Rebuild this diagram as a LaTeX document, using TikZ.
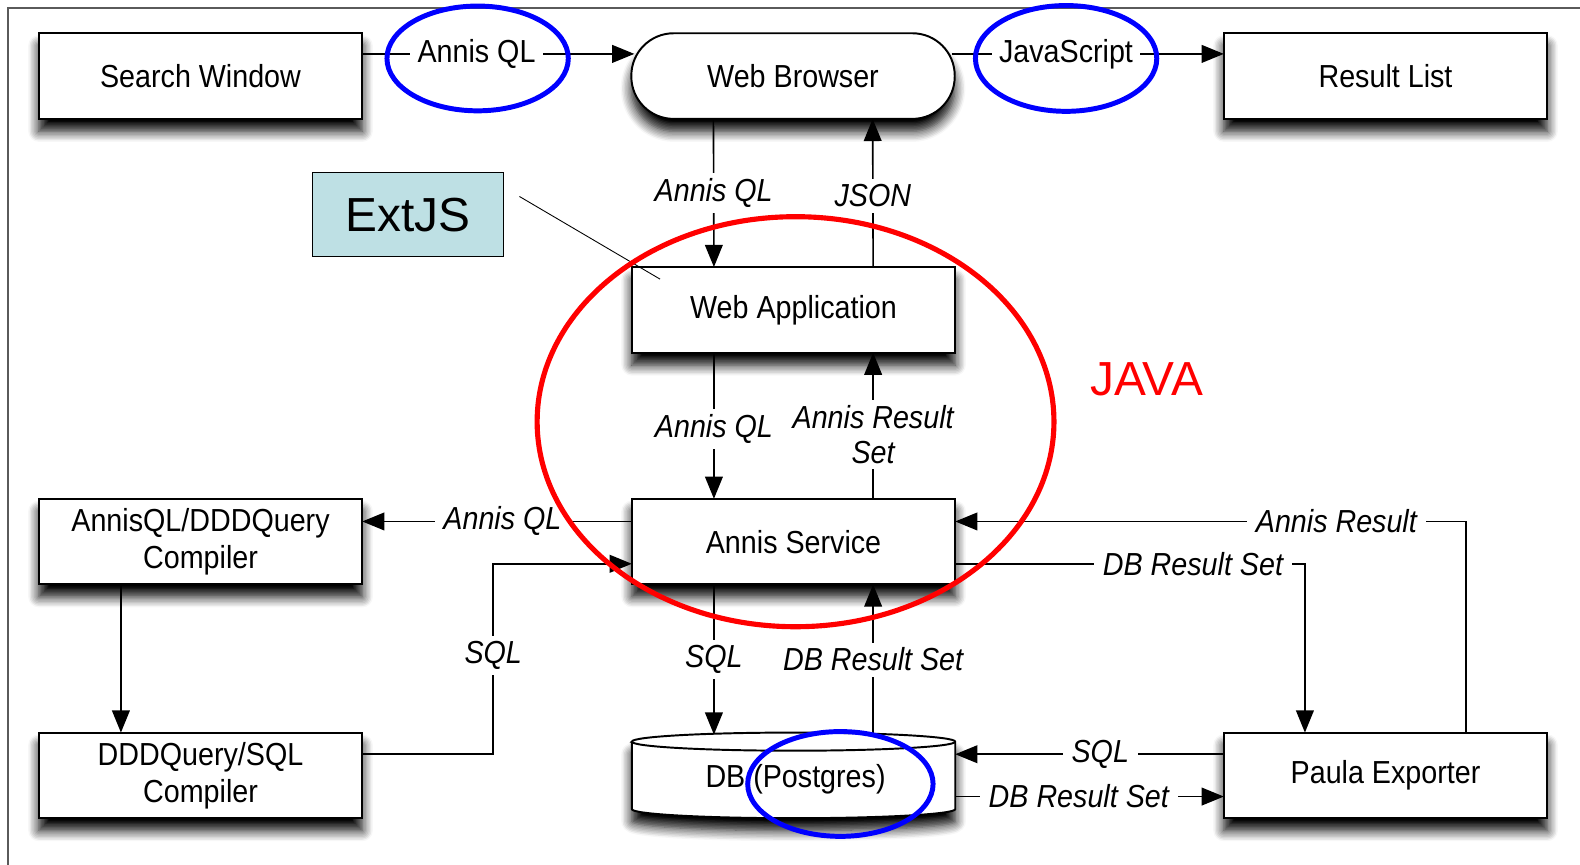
\documentclass[tikz,border=0pt]{standalone}
\usepackage{fontspec}
\setmainfont{Liberation Sans}
\newfontfamily\diafont{Liberation Sans}[FakeStretch=0.9]
\usetikzlibrary{arrows.meta,calc,shadows.blur}
\definecolor{extfill}{RGB}{190,224,228}
\definecolor{framegray}{RGB}{90,90,90}
\begin{document}
\begin{tikzpicture}[x=0.02cm,y=-0.02cm,
  shad/.style={blur shadow={shadow xshift=0pt, shadow yshift=-7pt, shadow blur radius=6pt, shadow blur steps=8, shadow opacity=100}},
  box/.style={draw=black, line width=1.1pt, fill=white, minimum width=6.42cm, minimum height=1.7cm,
    inner sep=0pt, outer sep=0pt, font=\diafont\fontsize{18}{21}\selectfont, align=center, shad},
  conn/.style={line width=0.9pt, draw=black},
  arr/.style={conn, -{Triangle[length=12.5pt,width=10pt]}},
  lab/.style={fill=white, inner xsep=5pt, inner ysep=3pt, font=\diafont\itshape\fontsize{18}{20}\selectfont, align=center},
  ulab/.style={fill=white, inner xsep=4pt, inner ysep=3pt, font=\diafont\fontsize{18}{20}\selectfont},
  ring/.style={draw=blue, line width=2.8pt},
  redring/.style={draw=red, line width=2.9pt}
]
\useasboundingbox (0,0) rectangle (1568,858);
\draw[framegray, line width=1.1pt] (8,870) -- (8,8) -- (1580,8);

% nodes
\node[box] (sw) at (199,75.5) {Search Window};
\node[box, rounded corners=0.84cm] (wb) at (787,75.5) {Web Browser};
\node[box] (rl) at (1375,75.5) {Result List};
\node[box] (wa) at (787.5,307.5) {Web Application};
\node[box] (as) at (787.5,537.5) {Annis Service};
\node[box] (c1) at (199,537.5) {AnnisQL/DDDQuery\\Compiler};
\node[box] (c2) at (199,769.5) {DDDQuery/SQL\\Compiler};
\node[box] (pe) at (1375,769.5) {Paula Exporter};
\node[draw=black, line width=0.6pt, fill=extfill, minimum width=3.8cm, minimum height=1.68cm,
      inner sep=0pt, font=\fontsize{27}{30}\selectfont] (ext) at (405,213) {ExtJS};
\node[minimum width=6.42cm, minimum height=1.7cm, inner sep=0pt, outer sep=0pt] (db) at (787.5,769.5) {};

% database cylinder
\draw[line width=1.1pt, fill=white, shad]
  ($(db.north west)+(0,9)$) -- ($(db.south west)+(0,-9)$)
  arc[start angle=180, end angle=360, x radius=3.21cm, y radius=0.18cm]
  -- ($(db.north east)+(0,9)$)
  arc[start angle=0, end angle=180, x radius=3.21cm, y radius=0.18cm] -- cycle;
\draw[line width=1.1pt] ($(db.north west)+(0,9)$)
  arc[start angle=180, end angle=360, x radius=3.21cm, y radius=0.18cm];
\node[font=\diafont\fontsize{18}{21}\selectfont] (dbtext) at ($(db.center)+(2,4)$) {DB (Postgres)};

% connectors
\draw[arr] ($(sw.east)+(0,-22)$) -- ($(wb.west)+(3,-22)$)
  node[ulab, pos=0.42] (l1) {Annis QL};
\draw[arr] ($(wb.east)+(-3,-22)$) -- ($(rl.west)+(0,-22)$)
  node[ulab, pos=0.42] (l2) {JavaScript};
\draw[arr] ($(wb.south)+(-79,0)$) -- ($(wa.north)+(-79,0)$)
  node[lab, midway] {Annis QL};
\draw[arr] ($(wa.north)+(79,0)$) -- ($(wb.south)+(79,0)$)
  node[lab, pos=0.48] {JSON};
\draw[arr] ($(wa.south)+(-79,0)$) -- ($(as.north)+(-79,0)$)
  node[lab, pos=0.52] {Annis QL};
\draw[arr] ($(as.north)+(79,0)$) -- ($(wa.south)+(79,0)$)
  node[lab, pos=0.44] {Annis Result\\Set};
\draw[arr] ($(as.west)+(0,-20)$) -- ($(c1.east)+(0,-20)$)
  node[lab, pos=0.48] {Annis QL};
\draw[arr] ($(c1.south)+(-79,0)$) -- ($(c2.north)+(-79,0)$);
\draw[arr] ($(c2.east)+(0,-21)$) -- ++(130,0) |- ($(as.west)+(0,22)$)
  node[lab, pos=0.26] {SQL};
\draw[arr] ($(as.south)+(-79,0)$) -- ($(db.north)+(-79,2)$)
  node[lab, midway] {SQL};
\draw[arr] ($(db.north)+(79,2)$) -- ($(as.south)+(79,0)$)
  node[lab, pos=0.5] {DB Result Set};
\draw[arr] ($(pe.west)+(0,-21)$) -- ($(db.east)+(0,-21)$)
  node[lab, pos=0.46] {SQL};
\draw[arr] ($(db.east)+(0,21)$) -- ($(pe.west)+(0,21)$)
  node[lab, pos=0.46] {DB Result Set};
\draw[arr] ($(pe.north)+(80,0)$) |- ($(as.east)+(0,-20)$)
  node[lab, pos=0.627] {Annis Result};
\draw[arr] ($(as.east)+(0,22)$) -| ($(pe.north)+(-80,0)$)
  node[lab, pos=0.34] {DB Result Set};

% ExtJS pointer
\coordinate (extend) at ($(wa.north west)+(28,12)$);
\draw[line width=0.5pt] ($(ext.east)+(15,-18)$) -- (extend);

% annotation rings
\draw[redring] (789.5,418.5) ellipse [x radius=5.13cm, y radius=4.07cm];
\node[text=red, font=\fontsize{27}{30}\selectfont] (java) at (1138,376) {JAVA};
\draw[ring] (474,58) ellipse [x radius=1.80cm, y radius=1.04cm];
\draw[ring] (1058,58) ellipse [x radius=1.80cm, y radius=1.05cm];
\draw[ring] (834,778) ellipse [x radius=1.84cm, y radius=1.04cm];
\end{tikzpicture}
\end{document}
